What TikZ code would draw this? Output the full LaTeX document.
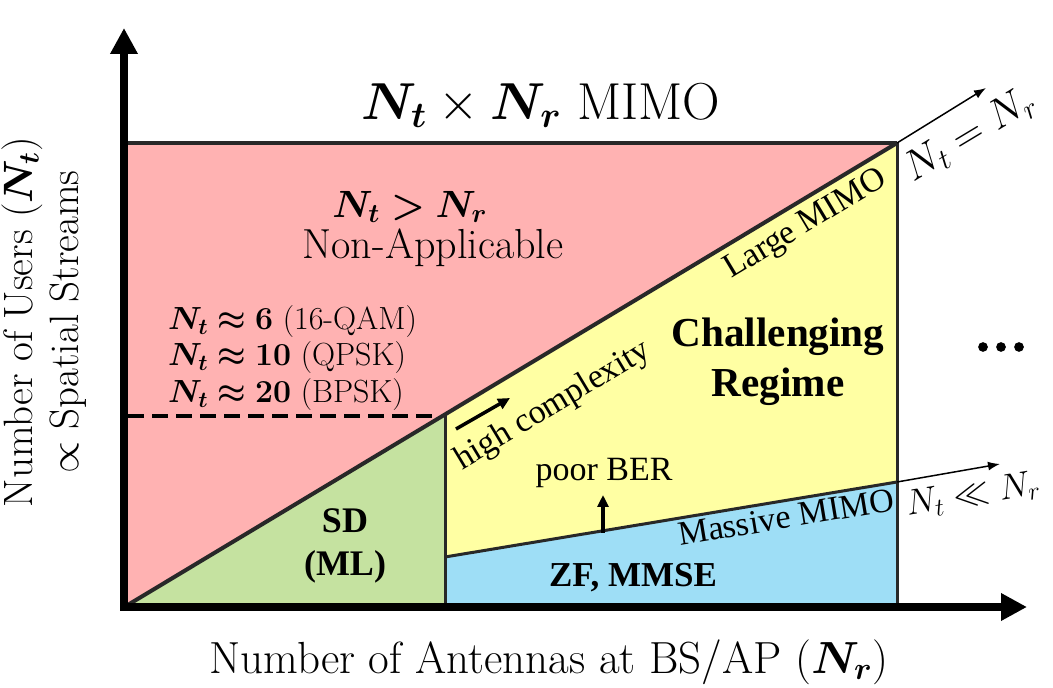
\RequirePackage{fix-cm}
\documentclass[tikz,border=0pt]{standalone}
\usepackage{fontspec}
\usepackage{amsmath,amssymb,bm}
\newfontfamily\tnr{Liberation Serif}
\newfontfamily\dotsfont{Liberation Serif}[FakeBold=1.5]
\usetikzlibrary{arrows.meta}
\definecolor{pinkR}{RGB}{255,178,178}
\definecolor{greenR}{RGB}{197,226,160}
\definecolor{yellowR}{RGB}{255,255,163}
\definecolor{blueR}{RGB}{158,222,246}
\definecolor{edgeC}{RGB}{40,40,40}
\begin{document}
\begin{tikzpicture}[x=0.5pt,y=-0.5pt,
  bound/.style={draw=edgeC,line width=1.5pt},
  heavy/.style={draw=edgeC,line width=2pt},
  mainaxis/.style={line width=4pt,-{Triangle[length=13pt,width=13pt]}},
  thinarrow/.style={line width=0.75pt,-{Latex[length=6pt,width=4.5pt]}},
  thickarrow/.style={line width=1.75pt,-{Triangle[length=6pt,width=5.5pt]}},
  dashline/.style={line width=2pt,dash pattern=on 8pt off 4pt},
  lmtitle/.style={font=\fontsize{26}{30}\selectfont},
  lmbig/.style={font=\fontsize{21}{25}\selectfont},
  lmmid/.style={font=\fontsize{16}{18.25}\selectfont},
  lmrot/.style={font=\fontsize{20.5}{23}\selectfont},
  lmx/.style={font=\fontsize{22.5}{26}\selectfont},
  tnrbold/.style={font=\tnr\bfseries\fontsize{17.5}{21.5}\selectfont},
  tnrbig/.style={font=\tnr\bfseries\fontsize{20.6}{25}\selectfont},
  tnrtext/.style={font=\tnr\fontsize{17}{20}\selectfont},
  inner sep=0pt, outer sep=0pt]
\useasboundingbox (0,0) rectangle (1053,688);
% dots placed first
\node[font=\dotsfont\fontsize{36}{40}\selectfont] (dots) at (1001,347) {...};
% key points
\coordinate (O) at (126,606);
\coordinate (G) at (126,143);
\coordinate (B) at (897,143);
\coordinate (A) at (445,413);
\coordinate (E) at (445,606);
\coordinate (D) at (445,557);
\coordinate (C) at (897,482);
\coordinate (F) at (897,606);
\coordinate (Ltop) at (124,143);
\coordinate (Dl) at (128,416);
\coordinate (Dr) at (439,416);
% regions
\fill[pinkR] (O) -- (G) -- (B) -- cycle;
\fill[greenR] (O) -- (A) -- (E) -- cycle;
\fill[yellowR] (A) -- (B) -- (C) -- (D) -- cycle;
\fill[blueR] (D) -- (C) -- (F) -- (E) -- cycle;
% boundaries
\draw[bound] (B) -- (F);
\draw[bound] (A) -- (E);
\draw[bound] (D) -- (C);
\draw[heavy] (O) -- (B);
\draw[heavy] (Ltop) -- (B);
\draw[dashline] (Dl) -- (Dr);
% axes
\coordinate (yb) at (124,610);
\coordinate (yt) at (124,28);
\coordinate (xl) at (120,607);
\coordinate (xr) at (1027,607);
\draw[mainaxis] (yb) -- (yt);
\draw[mainaxis] (xl) -- (xr);
% trend arrows
\coordinate (t1) at (986,88);
\coordinate (t2) at (1000,464);
\draw[thinarrow] (B) -- (t1);
\draw[thinarrow] (C) -- (t2);
\coordinate (hc1) at (456,429);
\coordinate (hc2) at (510,398);
\draw[thickarrow] (hc1) -- (hc2);
\coordinate (pb1) at (603,533);
\coordinate (pb2) at (603,495);
\draw[thickarrow] (pb1) -- (pb2);
% texts
\node[lmtitle] (title) at (541,105) {$\bm{N_t}\times\bm{N_r}$ MIMO};
\node[font=\fontsize{19}{23}\selectfont] (gt) at (410,207) {$\bm{N_t > N_r}$};
\node[lmbig] (na) at (433,248) {Non-Applicable};
\node[lmmid,align=left,anchor=west] (mods) at (168,358)
  {$\bm{N_t\approx 6}$ (16-QAM)\\ $\bm{N_t\approx 10}$ (QPSK)\\ $\bm{N_t\approx 20}$ (BPSK)};
\node[font=\tnr\bfseries\fontsize{18}{21.5}\selectfont,align=center] (sd) at (345,546) {SD\\(ML)};
\node[tnrbig,align=center] (cr) at (778,362) {Challenging\\Regime};
\node[tnrbold] (zf) at (633,578) {ZF, MMSE};
\node[tnrtext] (pber) at (604,473) {poor BER};
\node[tnrtext,rotate=31] (hcx) at (553,406) {high complexity};
\node[tnrtext,rotate=31] (lm) at (806,225) {Large MIMO};
\node[tnrtext,rotate=9.4] (mm) at (786,517) {Massive MIMO};
\node[lmbig,rotate=31] (eq) at (970,135) {$N_t = N_r$};
\node[font=\fontsize{18}{20}\selectfont,rotate=9.4] (ll) at (973,495) {$N_t \ll N_r$};
\node[lmx] (xlab) at (549,662) {Number of Antennas at BS/AP ($\bm{N_r}$)};
\node[lmrot,rotate=90,align=center] (ylab) at (44,322) {Number of Users ($\bm{N_t}$)\\ $\propto$ Spatial Streams};
\end{tikzpicture}
\end{document}
